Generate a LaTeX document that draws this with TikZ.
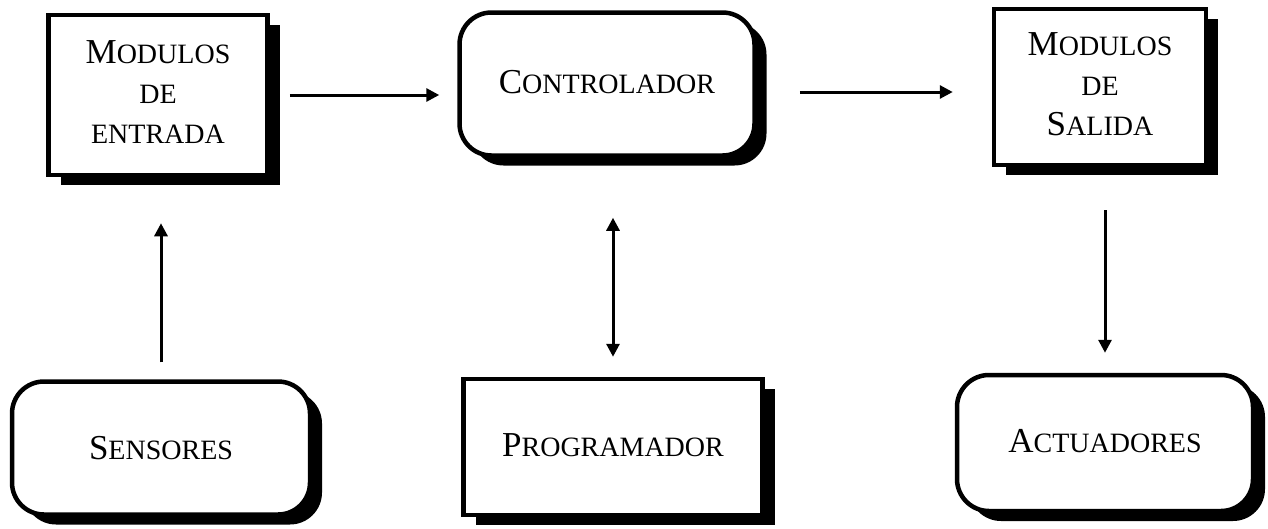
\documentclass[tikz,border=0pt]{standalone}
\usepackage{fontspec}
\setmainfont{Liberation Serif}
\usetikzlibrary{arrows.meta,calc,positioning,shadows}
\newcommand\smc[1]{{\fontsize{28}{30}\selectfont #1}}
\tikzset{arr/.style={line width=3pt, -{Triangle[length=13pt,width=13pt]}},
  blk/.style={draw, fill=white, line width=4.5pt, align=center,
    font=\fontsize{35}{40}\selectfont,
    drop shadow={shadow xshift=12pt, shadow yshift=-10pt, fill=black, opacity=1}},
  rblk/.style={blk, rounded corners=32pt}}

\begin{document}
\begin{tikzpicture}[x=1pt, y=-1pt]
  \useasboundingbox (0,0) rectangle (1268,528);
  % top row
  \node[blk, minimum width=219pt, minimum height=160pt] (entrada) at (158,95)
    {\raisebox{12pt}{\begin{tabular}{@{}c@{}}M\smc{ODULOS}\\\smc{DE}\\\smc{ENTRADA}\end{tabular}}};
  \node[rblk, minimum width=295pt, minimum height=143pt] (ctrl) at (607,84)
    {\raisebox{4pt}{C\smc{ONTROLADOR}}};
  \node[blk, minimum width=212pt, minimum height=156pt] (salida) at (1100,87)
    {\raisebox{13pt}{\begin{tabular}{@{}c@{}}M\smc{ODULOS}\\\smc{DE}\\S\smc{ALIDA}\end{tabular}}};
  % bottom row
  \node[rblk, minimum width=298pt, minimum height=133pt] (sens) at (161,448)
    {S\smc{ENSORES}};
  \node[blk, minimum width=299pt, minimum height=136pt] (prog) at (613,447)
    {\raisebox{4pt}{P\smc{ROGRAMADOR}}};
  \node[rblk, minimum width=296pt, minimum height=136pt] (act) at (1105,443)
    {\raisebox{4pt}{A\smc{CTUADORES}}};
  % horizontal links
  \draw[arr, shorten <=20pt, shorten >=18pt] (entrada.east) -- (entrada.east -| ctrl.west);
  \draw[arr, shorten <=43pt, shorten >=39pt] ([yshift=-5pt]salida.west -| ctrl.east) -- ([yshift=-5pt]salida.west);
  % vertical links
  \draw[arr, shorten <=17pt, shorten >=46pt] (sens.north) -- (sens.north |- entrada.south);
  \draw[arr, {Triangle[length=13pt,width=13pt]}-{Triangle[length=13pt,width=13pt]}, shorten <=20pt, shorten >=60pt]
    (prog.north) -- (prog.north |- ctrl.south);
  \draw[arr, shorten <=43pt, shorten >=20pt] (salida.south -| act.north) -- (act.north);
\end{tikzpicture}
\end{document}
